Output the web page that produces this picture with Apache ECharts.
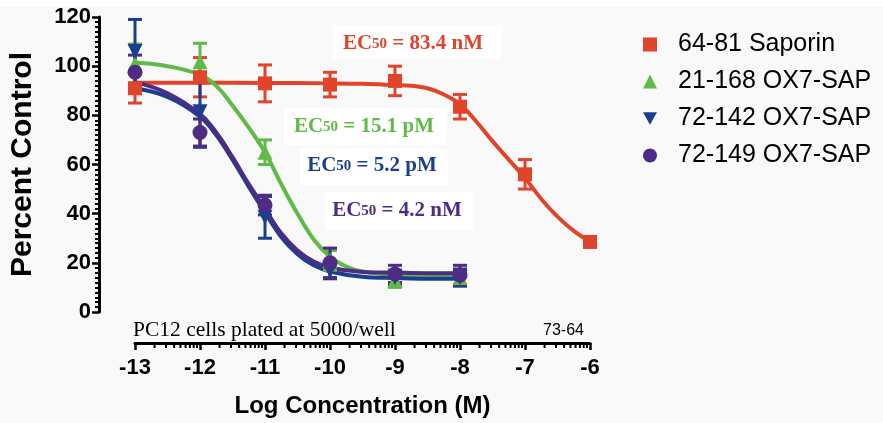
<!DOCTYPE html>
<html>
<head>
<meta charset="utf-8">
<script src="https://cdn.jsdelivr.net/npm/echarts@6/dist/echarts.min.js"></script>
<style>
  html, body { margin: 0; padding: 0; background: #f9f9f9; }
  #chart { width: 883px; height: 423px; }
</style>
</head>
<body>
<div id="chart"></div>
<script>
// 坐标轴刻度
var xTicks = [-13, -12, -11, -10, -9, -8, -7, -6]
var yTicks = [0, 20, 40, 60, 80, 100, 120]
// 对数小刻度（每个数量级内 2..9 的位置）
var minorOffsets = [0.301, 0.477, 0.602, 0.699, 0.778, 0.845, 0.903, 0.954]
var decades = [-13, -12, -11, -10, -9, -8, -7]

var names = ['64-81 Saporin', '21-168 OX7-SAP', '72-142 OX7-SAP', '72-149 OX7-SAP']
var colors = ['#e0452b', '#5fba47', '#1b3f8e', '#4e2c86']

// 数据点：[log浓度, 均值, 误差]
var saporinPts = [[-13, 91, 6], [-12, 95.5, 8], [-11, 93, 7.5], [-10, 92.5, 5], [-9, 94, 6], [-8, 83.5, 5], [-7, 56, 6], [-6, 28.5, 0]]
var ox168Pts = [[-13, 101, 8], [-12, 101.8, 7.5], [-11, 65, 5], [-10, 21, 4], [-9, 13, 3], [-8, 14, 3]]
var ox142Pts = [[-13, 106, 13], [-12, 81.5, 14.5], [-11, 38.5, 8.5], [-10, 17, 3.5], [-9, 14, 3], [-8, 14, 3.5]]
var ox149Pts = [[-13, 97.5, 7], [-12, 73, 5.5], [-11, 43.5, 4], [-10, 20, 6], [-9, 15.5, 3.5], [-8, 15, 4]]

// 拟合曲线（从原图读出的曲线位置）
var saporinFit = [[-13, 93.3], [-12, 93.3], [-11, 93.2], [-10, 93], [-9.5, 92.8], [-9, 92.3], [-8.75, 92], [-8.5, 91], [-8.25, 88.5], [-8, 84.5], [-7.75, 77.5], [-7.5, 69.5], [-7.25, 62], [-7, 54.5], [-6.75, 46], [-6.5, 38.8], [-6.25, 33], [-6, 28.7]]
var ox168Fit = [[-13, 101.5], [-12.5, 100], [-12, 96.5], [-11.75, 92], [-11.5, 84], [-11.25, 75], [-11, 65], [-10.75, 52], [-10.5, 40], [-10.25, 29.5], [-10, 22.5], [-9.75, 18.5], [-9.5, 16.5], [-9, 15.2], [-8.5, 15], [-8, 15]]
var ox142Fit = [[-13, 91], [-12.5, 87.5], [-12, 79.5], [-11.75, 72], [-11.5, 62], [-11.25, 51], [-11, 40.5], [-10.75, 30.5], [-10.5, 23.5], [-10.25, 19], [-10, 16.5], [-9.5, 14.3], [-9, 13.8], [-8.5, 13.5], [-8, 13.5]]
var ox149Fit = [[-13, 93.5], [-12.5, 89], [-12, 80.5], [-11.75, 73], [-11.5, 63], [-11.25, 52], [-11, 42], [-10.75, 32], [-10.5, 25], [-10.25, 20.5], [-10, 18], [-9.5, 16.3], [-9, 16], [-8.5, 15.8], [-8, 15.8]]

var ec50Labels = ['83.4 nM', '15.1 pM', '5.2 pM', '4.2 nM']

var pointSets = [saporinPts, ox168Pts, ox142Pts, ox149Pts]
var fitSets = [saporinFit, ox168Fit, ox142Fit, ox149Fit]
var symbols = ['rect', 'triangle', 'path://M0,0L10,0L5,9Z', 'circle']
var symbolSizes = [14, 15, 15, 15]

var minorTicks = []
decades.forEach(function (d) {
  minorOffsets.forEach(function (o) { minorTicks.push([d + o, 0]) })
})

var series = []
pointSets.forEach(function (pts, i) {
  series.push({
    name: names[i] + ' fit',
    type: 'line',
    smooth: 0.4,
    showSymbol: false,
    silent: true,
    data: fitSets[i],
    lineStyle: { color: colors[i], width: 4 },
    z: 3
  })
  series.push({
    name: names[i] + ' err',
    type: 'custom',
    silent: true,
    data: pts.filter(function (p) { return p[2] > 0 }).map(function (p) { return [p[0], p[1] - p[2], p[1] + p[2]] }),
    renderItem: function (params, api) {
      var top = api.coord([api.value(0), api.value(2)])
      var bot = api.coord([api.value(0), api.value(1)])
      var st = { stroke: colors[i], lineWidth: 3 }
      return {
        type: 'group',
        children: [
          { type: 'line', shape: { x1: top[0], y1: top[1], x2: bot[0], y2: bot[1] }, style: st },
          { type: 'line', shape: { x1: top[0] - 7, y1: top[1], x2: top[0] + 7, y2: top[1] }, style: st },
          { type: 'line', shape: { x1: bot[0] - 7, y1: bot[1], x2: bot[0] + 7, y2: bot[1] }, style: st }
        ]
      }
    },
    z: 4
  })
  series.push({
    name: names[i],
    type: 'scatter',
    symbol: symbols[i],
    symbolSize: symbolSizes[i],
    data: pts.map(function (p) { return [p[0], p[1]] }),
    itemStyle: { color: colors[i], opacity: 1 },
    z: 5
  })
})

// x轴对数小刻度
series.push({
  name: 'minor',
  type: 'custom',
  silent: true,
  clip: false,
  data: minorTicks,
  renderItem: function (params, api) {
    var c = api.coord([api.value(0), 0])
    return { type: 'line', shape: { x1: c[0], y1: c[1] + 31, x2: c[0], y2: c[1] + 36 }, style: { stroke: '#000', lineWidth: 2 } }
  }
})

var boxes = [[333, 25, 169, 34], [284, 108, 163, 37], [300, 148, 148, 37], [325, 192, 148, 38]]
var textCenters = [[413, 44], [364, 127], [372, 166], [397, 211]]
var graphics = [{ type: 'rect', left: 0, top: 0, shape: { width: 883, height: 7 }, style: { fill: '#fff' } }]
boxes.forEach(function (b, i) {
  graphics.push({ type: 'rect', shape: { x: b[0], y: b[1], width: b[2], height: b[3] }, style: { fill: '#fff' }, z: 1 })
  graphics.push({
    type: 'text',
    x: textCenters[i][0],
    y: textCenters[i][1],
    z: 10,
    style: {
      text: '{a|EC}{b|50}{a| = ' + ec50Labels[i] + '}',
      align: 'center',
      verticalAlign: 'middle',
      rich: {
        a: { fontFamily: 'Liberation Serif', fontWeight: 'bold', fontSize: 21, fill: colors[i] },
        b: { fontFamily: 'Liberation Serif', fontWeight: 'bold', fontSize: 15, fill: colors[i] }
      }
    }
  })
})
graphics.push({ type: 'text', x: 133, y: 330, style: { text: 'PC12 cells plated at 5000/well', fontFamily: 'Liberation Serif', fontSize: 21.5, fill: '#000', verticalAlign: 'middle' } })
graphics.push({ type: 'text', x: 543, y: 331, style: { text: '73-64', fontFamily: 'Liberation Sans', fontSize: 16, fill: '#000', verticalAlign: 'middle' } })

var axisLineStyle = { show: true, onZero: false, lineStyle: { color: '#000', width: 3 } }

var chart = echarts.init(document.getElementById('chart'))
chart.setOption({
  backgroundColor: '#f9f9f9',
  animation: false,
  grid: { left: 133, right: 293, top: 17, bottom: 111 },
  legend: {
    orient: 'vertical',
    left: 638,
    top: 27,
    itemWidth: 14,
    itemHeight: 14,
    itemGap: 12,
    textStyle: { fontFamily: 'Liberation Sans', fontSize: 25, color: '#000', padding: [0, 0, 0, 16] },
    data: names.map(function (n, i) {
      return { name: n, icon: symbols[i] }
    })
  },
  xAxis: {
    type: 'value',
    min: xTicks[0],
    max: xTicks[xTicks.length - 1],
    interval: 1,
    offset: 31,
    splitLine: { show: false },
    axisLine: axisLineStyle,
    axisTick: { show: true, length: 7, lineStyle: { width: 2.5, color: '#000' } },
    axisLabel: { margin: 14, color: '#000', fontFamily: 'Liberation Sans', fontWeight: 'bold', fontSize: 22 },
    name: 'Log Concentration (M)',
    nameLocation: 'middle',
    nameGap: 51,
    nameTextStyle: { color: '#000', fontFamily: 'Liberation Sans', fontWeight: 'bold', fontSize: 24 }
  },
  yAxis: {
    type: 'value',
    min: yTicks[0],
    max: yTicks[yTicks.length - 1],
    interval: 20,
    offset: 36,
    splitLine: { show: false },
    axisLine: axisLineStyle,
    axisTick: { show: true, length: 7, lineStyle: { width: 2.5, color: '#000' } },
    minorTick: { show: true, splitNumber: 10, length: 4, lineStyle: { width: 2, color: '#000' } },
    axisLabel: { margin: 8, color: '#000', fontFamily: 'Liberation Sans', fontWeight: 'bold', fontSize: 22 },
    name: 'Percent Control',
    nameLocation: 'middle',
    nameGap: 61,
    nameTextStyle: { color: '#000', fontFamily: 'Liberation Sans', fontWeight: 'bold', fontSize: 30 }
  },
  graphic: graphics,
  series: series
})
</script>
</body>
</html>
